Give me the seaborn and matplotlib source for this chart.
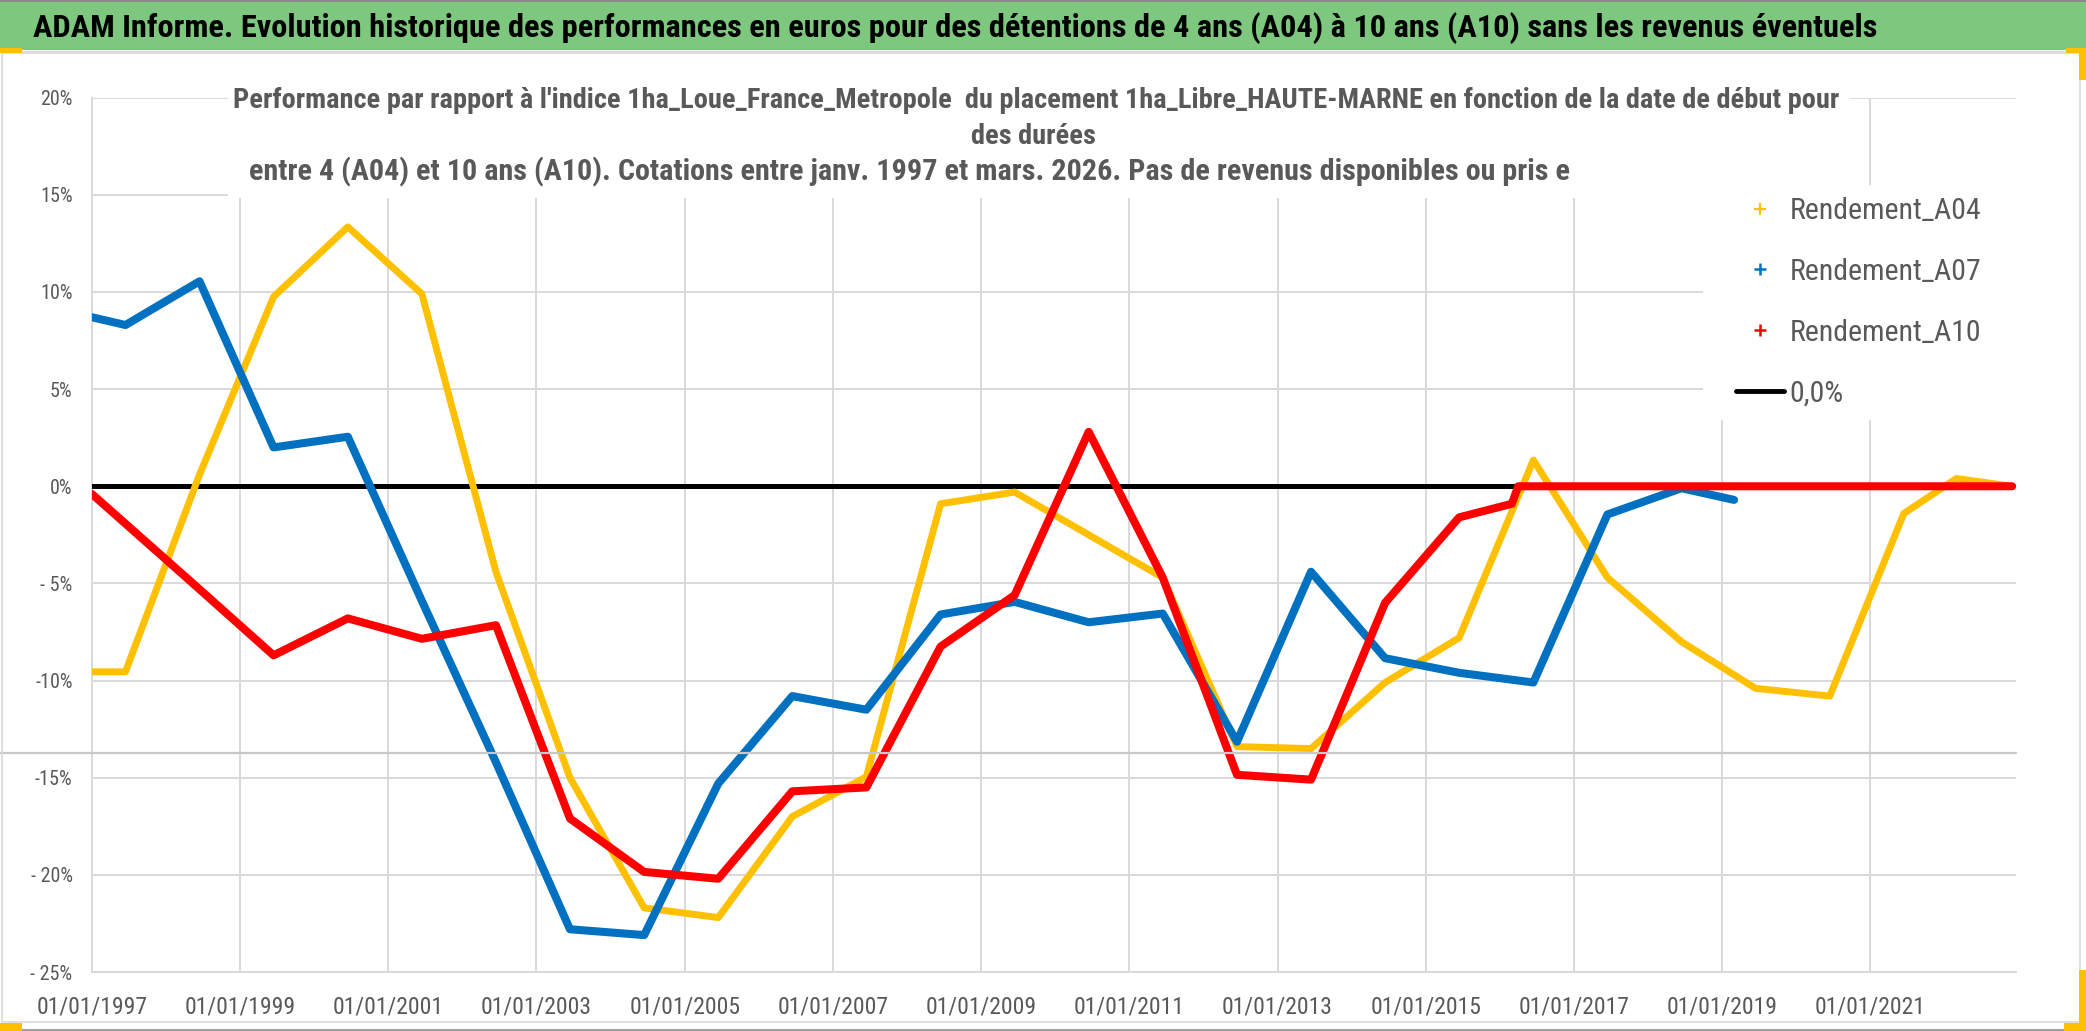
import numpy as np
import pandas as pd
import matplotlib
matplotlib.use("Agg")
import matplotlib.pyplot as plt
from matplotlib import font_manager as fm
from matplotlib.lines import Line2D
from matplotlib.patches import Rectangle
import seaborn as sns

# ---------------- data ----------------
a04_dates = ["1997-01-01", "1997-06-15", "1998-06-15", "1999-06-15", "2000-06-15",
             "2001-06-15", "2002-06-15", "2003-06-15", "2004-06-15", "2005-06-15",
             "2006-06-15", "2007-06-15", "2008-06-15", "2009-06-15", "2010-06-15",
             "2011-06-15", "2012-06-15", "2013-06-15", "2014-06-15", "2015-06-15",
             "2016-06-15", "2017-06-15", "2018-06-15", "2019-06-15", "2020-06-15",
             "2021-06-15", "2022-03-01", "2022-12-01"]
a04_values = [-9.55, -9.55, 0.6, 9.75, 13.35,
              9.9, -4.4, -15.0, -21.7, -22.2,
              -17.0, -14.95, -0.9, -0.3, -2.5,
              -4.7, -13.4, -13.5, -10.1, -7.8,
              1.35, -4.7, -8.0, -10.4, -10.8,
              -1.4, 0.4, 0.0]

a07_dates = ["1997-01-01", "1997-06-15", "1998-06-15", "1999-06-15", "2000-06-15",
             "2001-06-15", "2002-06-15", "2003-06-15", "2004-06-15", "2005-06-15",
             "2006-06-15", "2007-06-15", "2008-06-15", "2009-06-15", "2010-06-15",
             "2011-06-15", "2012-06-15", "2013-06-15", "2014-06-15", "2015-06-15",
             "2016-06-15", "2017-06-15", "2018-06-15", "2019-03-01"]
a07_values = [8.7, 8.3, 10.55, 2.0, 2.55,
              -5.9, -14.2, -22.8, -23.1, -15.3,
              -10.8, -11.5, -6.6, -5.95, -7.0,
              -6.55, -13.15, -4.4, -8.85, -9.6,
              -10.1, -1.45, -0.1, -0.7]

a10_dates = ["1997-01-01", "1998-06-15", "1999-06-15", "2000-06-15", "2001-06-15",
             "2002-06-15", "2003-06-15", "2004-06-15", "2005-06-15", "2006-06-15",
             "2007-06-15", "2008-06-15", "2009-06-15", "2010-06-15", "2011-06-15",
             "2012-06-15", "2013-06-15", "2014-06-15", "2015-06-15", "2016-03-01",
             "2016-04-01", "2022-12-01"]
a10_values = [-0.4, -5.3, -8.7, -6.8, -7.85,
              -7.15, -17.1, -19.85, -20.2, -15.7,
              -15.5, -8.25, -5.6, 2.8, -4.7,
              -14.85, -15.1, -6.0, -1.6, -0.9,
              0.0, 0.0]

zero_dates = ["1997-01-01", "2022-12-01"]
zero_values = [0.0, 0.0]

series_names = ["Rendement_A04", "Rendement_A07", "Rendement_A10", "0,0%"]

xtick_dates = ["1997-01-01", "1999-01-01", "2001-01-01", "2003-01-01", "2005-01-01",
               "2007-01-01", "2009-01-01", "2011-01-01", "2013-01-01", "2015-01-01",
               "2017-01-01", "2019-01-01", "2021-01-01"]
xtick_labels = ["01/01/1997", "01/01/1999", "01/01/2001", "01/01/2003", "01/01/2005",
                "01/01/2007", "01/01/2009", "01/01/2011", "01/01/2013", "01/01/2015",
                "01/01/2017", "01/01/2019", "01/01/2021"]
ytick_values = [20, 15, 10, 5, 0, -5, -10, -15, -20, -25]
ytick_labels = ["20%", "15%", "10%", "5%", "0%", "- 5%", "-10%", "-15%", "- 20%", "- 25%"]

title_text = ("ADAM Informe. Evolution historique des performances en euros pour des "
              "détentions de 4 ans (A04) à 10 ans (A10) sans les revenus éventuels")
subtitle_lines = [
    "Performance par rapport à l'indice 1ha_Loue_France_Metropole  du placement "
    "1ha_Libre_HAUTE-MARNE en fonction de la date de début pour",
    "des durées",
    "entre 4 (A04) et 10 ans (A10). Cotations entre janv. 1997 et mars. 2026. "
    "Pas de revenus disponibles ou pris e",
]

# ---------------- styling ----------------
YELLOW, BLUE, RED = "#FFC000", "#0070C0", "#FF0000"
GRID = "#D9D9D9"
TXT = "#595959"
GREEN = "#7DC87E"

sns.set_theme(style="white")
avail = {f.name for f in fm.fontManager.ttflist}
FONT = next((f for f in ["Liberation Sans Narrow", "Roboto Condensed", "Open Sans Condensed",
                         "Lato", "Roboto"] if f in avail), "DejaVu Sans")
plt.rcParams["font.family"] = [FONT, "DejaVu Sans"]

W, H = 2086, 1031
fig = plt.figure(figsize=(W / 100, H / 100), dpi=100)
fig.patch.set_facecolor("white")

def fx(x):
    return x / W

def fy(y):
    return 1 - y / H

ax = fig.add_axes([fx(92), fy(972), (2016 - 92) / W, (972 - 97.7) / H])
ax.set_facecolor("white")

def frame(d, v):
    return pd.DataFrame({"date": pd.to_datetime(d), "value": v})

sns.lineplot(data=frame(zero_dates, zero_values), x="date", y="value", ax=ax,
             color="black", linewidth=3.6, zorder=3)
sns.lineplot(data=frame(a04_dates, a04_values), x="date", y="value", ax=ax,
             color=YELLOW, linewidth=5.0, zorder=4)
sns.lineplot(data=frame(a07_dates, a07_values), x="date", y="value", ax=ax,
             color=BLUE, linewidth=5.8, zorder=5)
sns.lineplot(data=frame(a10_dates, a10_values), x="date", y="value", ax=ax,
             color=RED, linewidth=5.8, zorder=6)

ax.set_xlim(pd.Timestamp("1997-01-01"), pd.Timestamp("2022-12-20"))
ax.set_ylim(-25, 20)
ax.set_xticks(pd.to_datetime(xtick_dates))
ax.set_xticklabels(xtick_labels, fontsize=17, color=TXT)
ax.set_yticks(ytick_values)
ax.set_yticklabels(ytick_labels, fontsize=14.5, color=TXT)
ax.tick_params(axis="both", length=0)
ax.tick_params(axis="x", pad=17)
ax.tick_params(axis="y", pad=14)
ax.set_xlabel("")
ax.set_ylabel("")
ax.grid(True, color=GRID, linewidth=1.4, zorder=0)
ax.set_axisbelow(True)
for s in ["top", "right"]:
    ax.spines[s].set_visible(False)
for s in ["left", "bottom"]:
    ax.spines[s].set_color(GRID)
    ax.spines[s].set_linewidth(1.4)
if ax.get_legend():
    ax.get_legend().remove()

# ---------------- decorations ----------------
# stray worksheet line
fig.add_artist(Line2D([0, fx(2016)], [fy(753), fy(753)], color="#C8C8C8", lw=1.6, zorder=1))
# chart border
fig.add_artist(Rectangle((fx(2), fy(1022)), fx(2080) - fx(2), fy(53) - fy(1022),
                         fill=False, edgecolor=GRID, lw=1.2, zorder=1))
fig.add_artist(Line2D([0, 1], [fy(1030), fy(1030)], color="#A0A0A0", lw=1.5, zorder=1))

# title bar
fig.add_artist(Rectangle((0, fy(50)), 1, 50 / H, facecolor=GREEN, edgecolor="none", zorder=1))
fig.add_artist(Line2D([0, 1], [fy(1), fy(1)], color="#8A8A8A", lw=1.5, zorder=2))
fig.add_artist(Line2D([0, 1], [fy(52), fy(52)], color="#DDDDDD", lw=1.5, zorder=2))
title = fig.text(fx(33), fy(28), title_text, ha="left", va="center", fontsize=22,
                 fontweight="bold", color="black", zorder=3)

# white boxes behind chart title and legend
fig.add_artist(Rectangle((fx(228), fy(198)), fx(1850) - fx(228), fy(75) - fy(198),
                         facecolor="white", edgecolor="none", zorder=1))
fig.add_artist(Rectangle((fx(1703), fy(420)), fx(2030) - fx(1703), fy(185) - fy(420),
                         facecolor="white", edgecolor="none", zorder=1))

sub_pos = [(233, 101), (971, 136), (249, 172)]
sub_widths = [1610, None, 1394]
sub_texts = []
for line, (x0, y0) in zip(subtitle_lines, sub_pos):
    t = fig.text(fx(x0), fy(y0), line, ha="left", va="center", fontsize=17,
                 fontweight="bold", color=TXT, zorder=3)
    sub_texts.append(t)

# fit texts to measured widths
fig.canvas.draw()
r = fig.canvas.get_renderer()
w = title.get_window_extent(r).width
title.set_fontsize(title.get_fontsize() * 1847 / w)
w = sub_texts[0].get_window_extent(r).width
fs_sub = sub_texts[0].get_fontsize() * sub_widths[0] / w
sub_texts[0].set_fontsize(fs_sub)
sub_texts[1].set_fontsize(fs_sub)
w = sub_texts[2].get_window_extent(r).width
sub_texts[2].set_fontsize(min(sub_texts[2].get_fontsize() * sub_widths[2] / w, fs_sub * 1.06))

# legend
handles = [
    Line2D([], [], color=YELLOW, marker="+", ls="none", markersize=8, mew=1.5),
    Line2D([], [], color=BLUE, marker="+", ls="none", markersize=8, mew=1.8),
    Line2D([], [], color=RED, marker="+", ls="none", markersize=8, mew=1.8),
    Line2D([], [], color="black", lw=3.5),
]
fs_leg = 21.5
leg = fig.legend(handles, series_names, loc="upper left",
                 bbox_to_anchor=(fx(1736), fy(197)), frameon=False,
                 fontsize=fs_leg, labelcolor=TXT, handlelength=1.6,
                 handletextpad=0.2, labelspacing=1.1, borderpad=0, borderaxespad=0)
leg.set_zorder(4)

# selection handles
for (x0, y0, x1, y1) in [(0, 1023, 22, 1031), (0, 48, 22, 53), (2066, 48, 2086, 53),
                         (2079, 48, 2086, 80), (2079, 970, 2086, 1031), (2064, 1023, 2086, 1031)]:
    fig.add_artist(Rectangle((fx(x0), fy(y1)), fx(x1) - fx(x0), fy(y0) - fy(y1),
                             facecolor="#FFC000", edgecolor="none", zorder=5))

fig.savefig("out.png", dpi=100, facecolor="white")
